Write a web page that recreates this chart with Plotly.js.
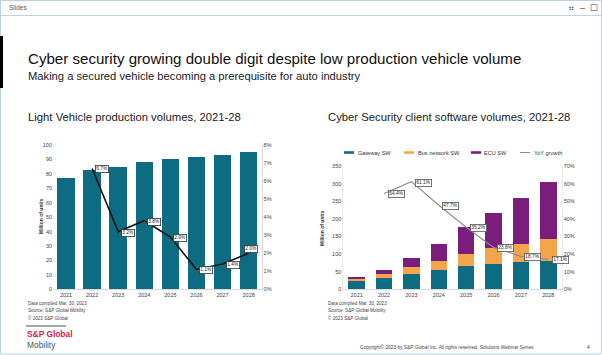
<!DOCTYPE html>
<html><head><meta charset="utf-8">
<script src="https://cdn.plot.ly/plotly-3.0.1.min.js"></script>
<style>html,body{margin:0;padding:0;background:#fff;}#c{width:602px;height:355px;}</style>
</head><body><div id="c"></div>
<script>
const years = ['2021','2022','2023','2024','2025','2026','2027','2028'];
const lvProduction = [77, 82.5, 85, 88, 90.5, 91.7, 93, 95];
const lvGrowth = [null, 6.7, 3.2, 3.8, 2.9, 1.1, 1.4, 2.0];
const gatewaySW = [23, 32, 44, 56, 65, 71, 77, 80];
const busNetworkSW = [6, 11, 18, 25, 35, 45, 53, 64];
const ecuSW = [6, 12, 26, 49, 76, 102, 130, 162];
const csGrowth = [null, 54.4, 61.1, 47.7, 35.2, 23.8, 18.7, 17.1];
const seriesNames = ['Gateway SW', 'Bus network SW', 'ECU SW', 'YoY growth'];
const leftYTicks = [0,10,20,30,40,50,60,70,80,90,100];
const rightYTicks = [0,50,100,150,200,250,300,350];

const TEAL = '#0e6c82', ORANGE = '#f4a54c', PURPLE = '#7a1d7c', GREY = '#8c8c8c';
const W = 602, H = 355;
const px = v => v / W, py = v => 1 - v / H;

const traces = [
  {type:'bar', x:years, y:lvProduction, width:0.67, xaxis:'x', yaxis:'y', marker:{color:TEAL}, showlegend:false, hoverinfo:'skip'},
  {type:'scatter', mode:'lines', x:years, y:lvGrowth.map(v => v==null?null:v/100), xaxis:'x', yaxis:'y2', line:{color:'#111', width:1.6}, showlegend:false, hoverinfo:'skip'},
  {type:'bar', x:years, y:gatewaySW, width:0.6, xaxis:'x2', yaxis:'y3', marker:{color:TEAL}, name:seriesNames[0], showlegend:false},
  {type:'bar', x:years, y:busNetworkSW, width:0.6, xaxis:'x2', yaxis:'y3', marker:{color:ORANGE}, name:seriesNames[1], showlegend:false},
  {type:'bar', x:years, y:ecuSW, width:0.6, xaxis:'x2', yaxis:'y3', marker:{color:PURPLE}, name:seriesNames[2], showlegend:false},
  {type:'scatter', mode:'lines', x:years, y:csGrowth.map(v => v==null?null:v/100), xaxis:'x2', yaxis:'y4', line:{color:GREY, width:1.1}, name:seriesNames[3], showlegend:false}
];

const FAM = 'Liberation Sans, Arial, sans-serif';
const tickFont = {family:FAM, size:5.5, color:'#444'};
const axBase = {showgrid:false, zeroline:false, tickfont:tickFont, ticks:''};

const annotations = [];
const shapes = [];
const txt = (x, y, text, size, color, opts={}) => annotations.push(Object.assign({
  xref:'paper', yref:'paper', x:px(x), y:py(y), text:text, showarrow:false,
  xanchor:'left', yanchor:'middle', font:{family:FAM, size:size, color:color}
}, opts));

// window chrome
shapes.push({type:'rect', xref:'paper', yref:'paper', x0:px(0.5), x1:px(601.5), y0:py(354), y1:py(0.5), line:{color:'#b9d3df', width:1}});
shapes.push({type:'line', xref:'paper', yref:'paper', x0:0, x1:1, y0:py(15.5), y1:py(15.5), line:{color:'#c9d0d6', width:1}});
shapes.push({type:'rect', xref:'paper', yref:'paper', x0:0, x1:px(3), y0:py(88), y1:py(36), fillcolor:'#000', line:{width:0}});
txt(7, 7.5, 'Slides', 6.5, '#555');
txt(566, 8, '⠶  –  ☐', 9, '#444');

// titles
txt(26, 58, 'Cyber security growing double digit despite low production vehicle volume', 15.1, '#111');
txt(26, 76, 'Making a secured vehicle becoming a prerequisite for auto industry', 11.2, '#222');
txt(26, 117, 'Light Vehicle production volumes, 2021-28', 11.3, '#222');
txt(326, 117, 'Cyber Security client software volumes, 2021-28', 11.3, '#222');

// notes
const notes = ['Data compiled Mar. 30, 2023', 'Source: S&amp;P Global Mobility', '© 2023 S&amp;P Global'];
notes.forEach((n, i) => { txt(26, 303 + i*7.5, n, 4.6, '#444'); txt(326, 303 + i*7.5, n, 4.6, '#444'); });

// logo & footer
shapes.push({type:'line', xref:'paper', yref:'paper', x0:px(26), x1:px(66), y0:py(326), y1:py(326), line:{color:'#222', width:0.8}});
txt(25, 333.5, '<b>S&amp;P Global</b>', 8.4, '#d6214a');
txt(25, 345, 'Mobility', 8.4, '#555');
txt(358, 347, 'Copyright© 2023 by S&amp;P Global Inc. All rights reserved. Solutions Webinar Series', 4.8, '#444');
txt(585, 347, '4', 5, '#444');

// axis titles
annotations.push({xref:'paper', yref:'paper', x:px(36), y:py(217), text:'<b>Million of units</b>', textangle:-90, showarrow:false, font:{family:FAM, size:5, color:'#333'}});
annotations.push({xref:'paper', yref:'paper', x:px(322), y:py(228), text:'<b>Million of units</b>', textangle:-90, showarrow:false, font:{family:FAM, size:5, color:'#333'}});

// line labels
const lab = (xa, ya, x, y, t, xs, ys, border) => annotations.push({xref:xa, yref:ya, x:x, y:y, text:t, showarrow:false,
  xshift:xs, yshift:ys, bgcolor:'#fff', bordercolor:border, borderwidth:0.8, borderpad:0.5,
  font:{family:FAM, size:4.8, color:'#222'}});
lvGrowth.forEach((v, i) => { if (v!=null) lab('x', 'y2', i, v/100, v.toFixed(1)+'%', i===7?2:10, i===7?4:-1, '#333'); });
csGrowth.forEach((v, i) => { if (v!=null) lab('x2', 'y4', i, v/100, v.toFixed(1)+'%', 12, -1, '#555'); });

// custom legend
const leg = [[344, TEAL, 0], [404, ORANGE, 1], [471, PURPLE, 2], [520, GREY, 3]];
leg.forEach(([x, c, i]) => {
  shapes.push({type:'line', xref:'paper', yref:'paper', x0:px(x), x1:px(x+10), y0:py(152.5), y1:py(152.5), line:{color:c, width:i===3?1:2.6}});
  txt(x+11.5, 152.5, seriesNames[i], 5.6, '#333');
});

const xcat = {type:'category', categoryorder:'array', categoryarray:years, range:[-0.5, 7.5], autorange:false,
  tickmode:'array', tickvals:years, ticktext:years, showline:true, linecolor:'#d0d0d0', linewidth:0.8};

const layout = {
  width:W, height:H, margin:{l:0,r:0,t:0,b:0}, paper_bgcolor:'#fff', plot_bgcolor:'rgba(0,0,0,0)',
  barmode:'stack', showlegend:false,
  xaxis: Object.assign({}, axBase, xcat, {domain:[px(53), px(261.7)], anchor:'y'}),
  yaxis: Object.assign({}, axBase, {domain:[py(289.3), py(145)], anchor:'x', range:[0,100], autorange:false, tickmode:'array', tickvals:leftYTicks}),
  yaxis2: Object.assign({}, axBase, {overlaying:'y', side:'right', anchor:'x', range:[0,0.08], autorange:false, dtick:0.01, tickformat:'.0%', showline:true, linecolor:'#cfcfcf', linewidth:0.8}),
  xaxis2: Object.assign({}, axBase, xcat, {domain:[px(343), px(562)], anchor:'y3'}),
  yaxis3: Object.assign({}, axBase, {domain:[py(289.3), py(166)], anchor:'x2', range:[0,350], autorange:false, tickmode:'array', tickvals:rightYTicks, showline:true, linecolor:'#e0e0e0', linewidth:0.6}),
  yaxis4: Object.assign({}, axBase, {overlaying:'y3', side:'right', anchor:'x2', range:[0,0.7], autorange:false, dtick:0.1, tickformat:'.0%', showline:true, linecolor:'#e0e0e0', linewidth:0.6}),
  annotations: annotations, shapes: shapes
};
Plotly.newPlot('c', traces, layout, {displayModeBar:false, staticPlot:true});
</script></body></html>
